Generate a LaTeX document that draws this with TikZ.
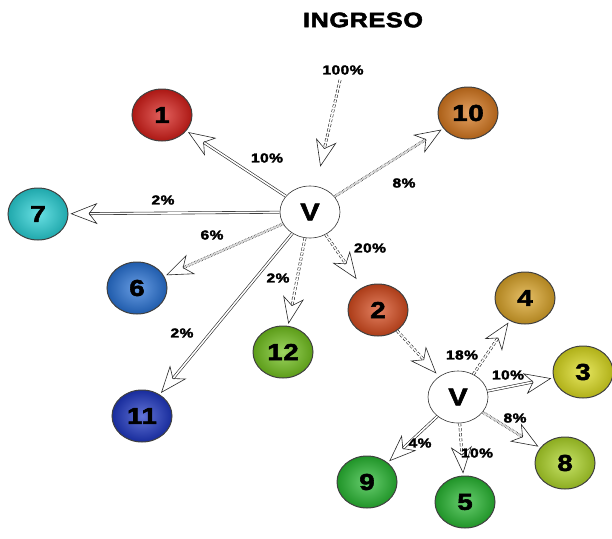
\documentclass[tikz,border=0pt]{standalone}
\usepackage{fontspec}
\usetikzlibrary{arrows.meta,shapes.geometric}
\newfontfamily\heavyfont{Liberation Sans}[FakeStretch=1.2,FakeBold=2.5,LetterSpace=3]
\definecolor{cRedA}{RGB}{215,30,25}
\definecolor{cOrange}{RGB}{215,120,30}
\definecolor{cCyan}{RGB}{40,210,215}
\definecolor{cBlueA}{RGB}{40,115,215}
\definecolor{cBlueB}{RGB}{30,55,195}
\definecolor{cGreenA}{RGB}{115,195,30}
\definecolor{cRedB}{RGB}{215,75,30}
\definecolor{cGold}{RGB}{220,165,40}
\definecolor{cYellow}{RGB}{220,220,30}
\definecolor{cLime}{RGB}{175,215,40}
\definecolor{cGreenB}{RGB}{40,185,50}

\begin{document}
\begin{tikzpicture}[x=1pt,y=-1pt,
  ball/.style={ellipse, minimum width=60pt, minimum height=52pt, inner sep=0pt,
    draw=black!75, line width=1pt, inner color=#1!70!white, outer color=#1!80!black,
    font=\heavyfont\bfseries\fontsize{23}{23}\selectfont},
  vnode/.style={ellipse, minimum width=60pt, minimum height=52pt, inner sep=0pt,
    draw=black!80, line width=0.6pt, fill=white,
    font=\heavyfont\bfseries\fontsize{24}{24}\selectfont},
  pct/.style={font=\heavyfont\bfseries\fontsize{13}{13}\selectfont},
  flow/.style={draw=black!85, line width=0.6pt, double=white, double distance=1.6pt,
    -{Stealth[open, length=27pt, width=21pt, inset=8pt]}, shorten >=2pt},
  dflow/.style={flow, densely dashed},
  pflow/.style={flow, densely dotted}]
\useasboundingbox (0,0) rectangle (612,538);

\node[font=\heavyfont\bfseries\fontsize{21}{21}\selectfont] (title) at (363,20) {INGRESO};

\node[vnode] (v1) at (310,212) {V};
\node[vnode] (v2) at (458,397) {V};

\node[ball=cRedA] (b1) at (162,115) {1};
\node[ball=cOrange] (b10) at (468,113) {10};
\node[ball=cCyan] (b7) at (38,214) {7};
\node[ball=cBlueA] (b6) at (137,288) {6};
\node[ball=cBlueB] (b11) at (142,416) {11};
\node[ball=cGreenA] (b12) at (283,352) {12};
\node[ball=cRedB] (b2) at (378,310) {2};
\node[ball=cGold] (b4) at (525,298) {4};
\node[ball=cYellow] (b3) at (583,372) {3};
\node[ball=cLime] (b8) at (565,463) {8};
\node[ball=cGreenB] (b5) at (465,502) {5};
\node[ball=cGreenB] (b9) at (367,482) {9};

\coordinate (src) at (340,80);
\draw[dflow, shorten >=20pt] (src) -- (v1);
\draw[flow] (v1) -- (b1);
\draw[pflow] (v1) -- (b10);
\draw[flow] (v1) -- (b7);
\draw[pflow] (v1) -- (b6);
\draw[flow] (v1) -- (b11);
\draw[dflow] (v1) -- (b12);
\draw[dflow, shorten >=10pt] (v1) -- (b2);
\draw[dflow, shorten >=4pt] (b2) -- (v2);
\draw[dflow] (v2) -- (b4);
\draw[flow] (v2) -- (b3);
\draw[pflow] (v2) -- (b8);
\draw[dflow] (v2) -- (b5);
\draw[flow] (v2) -- (b9);

\node[pct] (p100) at (343,70) {100\%};
\node[pct] (p10a) at (267,158) {10\%};
\node[pct] (p8a) at (404,183) {8\%};
\node[pct] (p2a) at (163,200) {2\%};
\node[pct] (p6) at (212,235) {6\%};
\node[pct] (p20) at (370,248) {20\%};
\node[pct] (p2b) at (278,278) {2\%};
\node[pct] (p2c) at (182,333) {2\%};
\node[pct] (p18) at (462,355) {18\%};
\node[pct] (p10b) at (508,375) {10\%};
\node[pct] (p8b) at (515,418) {8\%};
\node[pct] (p4) at (420,443) {4\%};
\node[pct] (p10c) at (477,453) {10\%};
\end{tikzpicture}
\end{document}
